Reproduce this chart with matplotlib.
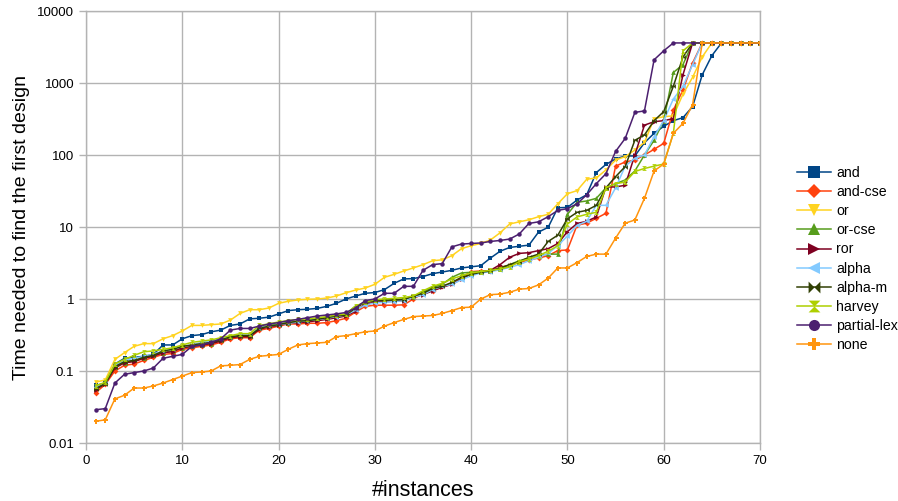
import numpy as np
import matplotlib
matplotlib.use("Agg")
from matplotlib import pyplot as plt
from matplotlib.ticker import FixedLocator, FixedFormatter, NullLocator

plt.rcParams['font.family'] = ['Liberation Sans', 'DejaVu Sans']

instances = list(range(1, 71))

t_and = [0.063, 0.068, 0.125, 0.15, 0.155, 0.16, 0.17, 0.23, 0.23, 0.28,
         0.31, 0.32, 0.35, 0.37, 0.43, 0.45, 0.53, 0.54, 0.56, 0.62,
         0.69, 0.71, 0.72, 0.74, 0.79, 0.87, 1.0, 1.1, 1.2, 1.23,
         1.35, 1.65, 1.9, 1.92, 2.05, 2.25, 2.37, 2.5, 2.7, 2.8,
         2.9, 3.7, 4.6, 5.2, 5.4, 5.6, 8.5, 9.9, 18.5, 18.7,
         23.7, 28, 57, 74, 88, 97, 97, 148, 200, 250,
         300, 330, 470, 1300, 2400, 3600, 3600, 3600, 3600, 3600]
t_and_cse = [0.05, 0.065, 0.10, 0.12, 0.125, 0.14, 0.155, 0.17, 0.175, 0.2,
             0.21, 0.22, 0.23, 0.25, 0.28, 0.29, 0.29, 0.37, 0.39, 0.42,
             0.45, 0.45, 0.46, 0.46, 0.47, 0.5, 0.54, 0.66, 0.79, 0.82,
             0.82, 0.82, 0.83, 1.0, 1.2, 1.3, 1.5, 1.65, 2.0, 2.4,
             2.45, 2.45, 2.75, 2.95, 3.2, 3.5, 3.7, 4.0, 4.7, 4.8,
             10.6, 11.3, 13.2, 15.5, 70, 80, 85, 100, 120, 145,
             420, 800, 1900, 3600, 3600, 3600, 3600, 3600, 3600, 3600]
t_or = [0.07, 0.075, 0.145, 0.18, 0.22, 0.24, 0.24, 0.28, 0.31, 0.36,
        0.43, 0.43, 0.44, 0.45, 0.51, 0.63, 0.71, 0.71, 0.75, 0.87,
        0.93, 0.97, 0.99, 1.0, 1.03, 1.1, 1.22, 1.33, 1.42, 1.6,
        2.0, 2.2, 2.45, 2.7, 3.0, 3.4, 3.5, 4.0, 5.0, 5.5,
        5.9, 6.6, 8.3, 11, 11.8, 12.6, 13.9, 15, 21, 29,
        32, 46, 48, 62, 85, 95, 117, 150, 320, 340,
        350, 700, 1200, 2300, 3600, 3600, 3600, 3600, 3600, 3600]
t_or_cse = [0.058, 0.068, 0.115, 0.13, 0.14, 0.15, 0.165, 0.18, 0.19, 0.21,
            0.22, 0.23, 0.24, 0.27, 0.3, 0.31, 0.31, 0.4, 0.43, 0.45,
            0.47, 0.49, 0.51, 0.53, 0.55, 0.58, 0.62, 0.8, 0.88, 0.95,
            0.97, 0.98, 1.0, 1.05, 1.25, 1.45, 1.6, 2.0, 2.3, 2.35,
            2.4, 2.45, 2.6, 3.0, 3.4, 3.7, 4.0, 4.2, 4.2, 15,
            22, 23, 25, 35, 40, 45, 60, 100, 160, 300,
            1400, 1800, 3600, 3600, 3600, 3600, 3600, 3600, 3600, 3600]
t_ror = [0.055, 0.066, 0.11, 0.13, 0.135, 0.15, 0.16, 0.18, 0.185, 0.21,
         0.22, 0.23, 0.24, 0.26, 0.29, 0.3, 0.3, 0.38, 0.41, 0.43,
         0.46, 0.47, 0.48, 0.5, 0.52, 0.55, 0.58, 0.68, 0.85, 0.9,
         0.92, 0.93, 0.95, 1.05, 1.15, 1.3, 1.45, 1.6, 1.9, 2.2,
         2.35, 2.5, 3.0, 3.8, 4.3, 4.4, 4.7, 5.0, 5.9, 8.6,
         11.2, 12, 13.8, 36, 36, 38, 100, 260, 290, 300,
         320, 1300, 3600, 3600, 3600, 3600, 3600, 3600, 3600, 3600]
t_alpha = [0.06, 0.068, 0.12, 0.14, 0.15, 0.16, 0.17, 0.19, 0.2, 0.22,
           0.23, 0.25, 0.26, 0.28, 0.3, 0.32, 0.32, 0.4, 0.42, 0.44,
           0.46, 0.48, 0.5, 0.52, 0.54, 0.57, 0.6, 0.7, 0.82, 0.88,
           0.9, 0.92, 0.95, 1.05, 1.15, 1.35, 1.5, 1.6, 1.85, 2.1,
           2.3, 2.4, 2.55, 2.75, 3.0, 3.4, 3.8, 4.3, 5.5, 7.5,
           10.5, 12, 20, 20, 35, 70, 90, 100, 180, 300,
           600, 900, 1800, 3600, 3600, 3600, 3600, 3600, 3600, 3600]
t_alpha_m = [0.057, 0.067, 0.115, 0.135, 0.14, 0.155, 0.165, 0.19, 0.2, 0.22,
             0.23, 0.24, 0.25, 0.27, 0.3, 0.31, 0.31, 0.39, 0.42, 0.44,
             0.47, 0.49, 0.5, 0.52, 0.55, 0.58, 0.6, 0.75, 0.9, 0.95,
             0.96, 0.97, 0.98, 1.1, 1.2, 1.4, 1.5, 1.7, 2.0, 2.2,
             2.35, 2.45, 2.7, 3.0, 3.3, 3.8, 4.2, 6.3, 7.7, 13,
             16, 17, 20, 35, 50, 69, 160, 190, 300, 400,
             900, 2300, 3600, 3600, 3600, 3600, 3600, 3600, 3600, 3600]
t_harvey = [0.062, 0.07, 0.125, 0.145, 0.165, 0.185, 0.19, 0.2, 0.21, 0.23,
            0.25, 0.26, 0.27, 0.29, 0.31, 0.33, 0.33, 0.43, 0.45, 0.48,
            0.5, 0.52, 0.53, 0.55, 0.57, 0.6, 0.62, 0.8, 0.9, 0.98,
            1.0, 1.02, 1.05, 1.1, 1.3, 1.5, 1.65, 1.9, 2.1, 2.3,
            2.4, 2.5, 2.6, 2.8, 3.3, 3.6, 4.0, 4.6, 5.5, 11,
            13.8, 15, 16, 35, 40, 42, 59, 65, 70, 75,
            200, 2800, 3600, 3600, 3600, 3600, 3600, 3600, 3600, 3600]
t_partial_lex = [0.029, 0.03, 0.068, 0.09, 0.095, 0.1, 0.11, 0.15, 0.16, 0.17,
                 0.22, 0.23, 0.25, 0.28, 0.37, 0.39, 0.39, 0.42, 0.45, 0.47,
                 0.5, 0.52, 0.55, 0.58, 0.6, 0.62, 0.65, 0.75, 0.95, 1.0,
                 1.2, 1.2, 1.5, 1.5, 2.5, 3.0, 3.1, 5.3, 5.8, 5.9,
                 6.0, 6.3, 6.5, 6.8, 8.0, 11.2, 11.8, 13.9, 17, 18,
                 21, 28, 40, 55, 112, 170, 390, 410, 2100, 2800,
                 3600, 3600, 3600, 3600, 3600, 3600, 3600, 3600, 3600, 3600]
t_none = [0.02, 0.021, 0.041, 0.046, 0.058, 0.058, 0.062, 0.068, 0.076, 0.085,
          0.095, 0.097, 0.1, 0.118, 0.12, 0.123, 0.145, 0.16, 0.165, 0.17,
          0.2, 0.23, 0.24, 0.245, 0.25, 0.3, 0.31, 0.33, 0.35, 0.36,
          0.42, 0.47, 0.52, 0.57, 0.58, 0.59, 0.63, 0.69, 0.76, 0.77,
          1.0, 1.15, 1.17, 1.24, 1.37, 1.4, 1.57, 1.95, 2.7, 2.7,
          3.2, 3.9, 4.2, 4.2, 7.0, 11.3, 12.5, 25, 60, 75,
          200, 275, 500, 3600, 3600, 3600, 3600, 3600, 3600, 3600]

names = ["and", "and-cse", "or", "or-cse", "ror", "alpha", "alpha-m",
         "harvey", "partial-lex", "none"]
series = [t_and, t_and_cse, t_or, t_or_cse, t_ror, t_alpha, t_alpha_m,
          t_harvey, t_partial_lex, t_none]
colors = ["#004586", "#ff420e", "#ffd320", "#579d1c", "#7e0021",
          "#83caff", "#314004", "#aecf00", "#4b1f6f", "#ff950e"]

# bowtie / hourglass shapes like the office chart symbols
bowtie = [(-1, -1), (-1, 1), (0, 0), (1, 1), (1, -1), (0, 0), (-1, -1)]
hourglass = [(-1, 1), (1, 1), (0, 0), (1, -1), (-1, -1), (0, 0), (-1, 1)]
plus = [(-0.25, 1), (0.25, 1), (0.25, 0.25), (1, 0.25), (1, -0.25), (0.25, -0.25),
        (0.25, -1), (-0.25, -1), (-0.25, -0.25), (-1, -0.25), (-1, 0.25),
        (-0.25, 0.25), (-0.25, 1)]
markers = ["s", "D", "v", "^", ">", "<", bowtie, hourglass, "o", plus]
sizes = [3.2, 3.0, 3.4, 3.4, 3.4, 3.4, 3.4, 3.4, 3.2, 3.6]

fig = plt.figure(figsize=(8.98, 5.01), dpi=100)
ax = fig.add_axes([86 / 898, 58 / 501, 674 / 898, 432 / 501])

for name, vals, c, m, ms in zip(names, series, colors, markers, sizes):
    ax.plot(instances, vals, color=c, marker=m, markersize=ms, linewidth=1.1,
            markeredgewidth=0, label=name)

ax.set_yscale("log")
ax.set_xlim(0, 70)
ax.set_ylim(0.01, 10000)
yt = [0.01, 0.1, 1, 10, 100, 1000, 10000]
ax.yaxis.set_major_locator(FixedLocator(yt))
ax.yaxis.set_major_formatter(FixedFormatter(["0.01", "0.1", "1", "10", "100", "1000", "10000"]))
ax.yaxis.set_minor_locator(NullLocator())
ax.set_xticks(range(0, 71, 10))

ax.grid(True, color="#b3b3b3", linewidth=1)
ax.set_axisbelow(True)
for s in ax.spines.values():
    s.set_color("#b3b3b3")
    s.set_linewidth(1)
ax.tick_params(axis="both", colors="#b3b3b3", labelcolor="black", labelsize=9.5,
               length=5, width=1, direction="out")

ax.set_xlabel("#instances", fontsize=15.5, va="center")
ax.xaxis.set_label_coords(0.5, -(490 - 443) / 432)
ax.set_ylabel("Time needed to find the first design", fontsize=14, va="center")
ax.yaxis.set_label_coords((22 - 86) / 674, 0.5)

leg = fig.legend(loc="upper left", bbox_to_anchor=(790 / 898, 1 - 159 / 501),
                 frameon=False, fontsize=10.2, markerscale=2.5, handlelength=2.4,
                 handletextpad=0.35, labelspacing=0.36, borderpad=0)

fig.savefig("out.png", dpi=100)
